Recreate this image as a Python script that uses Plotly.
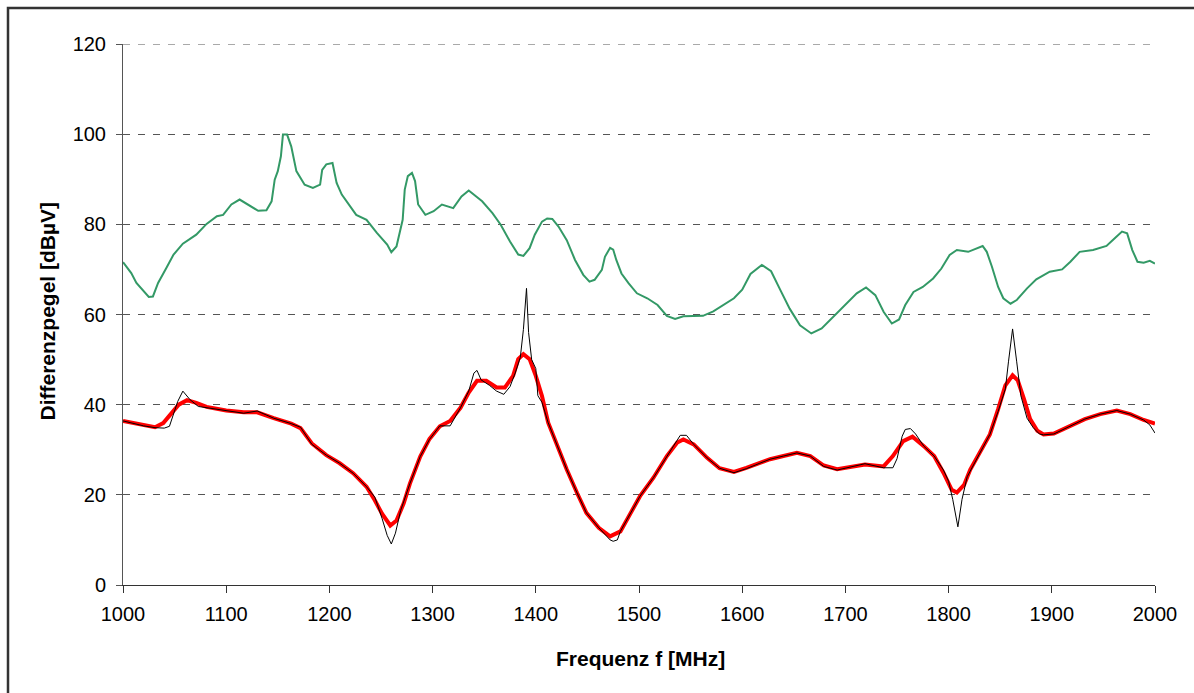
import plotly.graph_objects as go

# ---------------- data ----------------
green_f = [1000, 1008, 1013, 1020, 1025, 1029, 1034, 1042, 1049, 1058, 1071, 1081, 1091, 1097,
           1105, 1113, 1121, 1131, 1139, 1144, 1147, 1150, 1153, 1155, 1159, 1163, 1168, 1176,
           1184, 1191, 1193, 1197, 1203, 1207, 1212, 1218, 1226, 1236, 1246, 1256, 1260, 1265,
           1268, 1271, 1273, 1276, 1280, 1283, 1286, 1293, 1301, 1309, 1320, 1328, 1335, 1340,
           1348, 1358, 1366, 1375, 1383, 1388, 1394, 1399, 1406, 1411, 1416, 1422, 1430, 1438,
           1446, 1452, 1457, 1464, 1467, 1472, 1475, 1478, 1483, 1490, 1498, 1508, 1518, 1527,
           1535, 1543, 1553, 1562, 1572, 1582, 1592, 1600, 1608, 1619, 1628, 1637, 1646, 1656,
           1667, 1677, 1688, 1701, 1711, 1720, 1729, 1737, 1745, 1752, 1758, 1766, 1775, 1785,
           1793, 1801, 1808, 1819, 1828, 1833, 1837, 1842, 1848, 1853, 1860, 1866, 1876, 1885,
           1898, 1910, 1918, 1927, 1940, 1953, 1961, 1968, 1973, 1978, 1983, 1989, 1995, 2000]
green_v = [71.6, 69.2, 67.0, 65.1, 63.9, 64.0, 67.0, 70.3, 73.3, 75.7, 77.7, 80.1, 81.8, 82.1,
           84.4, 85.5, 84.4, 83.0, 83.1, 85.1, 89.9, 91.8, 95.1, 99.9, 99.9, 97.3, 91.8, 88.8,
           88.1, 88.8, 92.1, 93.3, 93.6, 89.2, 86.6, 84.7, 82.1, 81.0, 78.1, 75.5, 73.8, 75.1,
           78.1, 81.0, 87.7, 90.7, 91.4, 89.6, 84.4, 82.1, 82.9, 84.4, 83.6, 86.2, 87.5, 86.6,
           85.1, 82.5, 79.9, 76.2, 73.3, 73.0, 74.7, 77.7, 80.6, 81.3, 81.2, 79.5, 76.5, 72.1,
           68.8, 67.3, 67.7, 69.9, 72.8, 74.8, 74.4, 72.1, 69.1, 66.9, 64.7, 63.6, 62.1, 59.7,
           59.0, 59.6, 59.7, 59.7, 60.7, 62.1, 63.6, 65.5, 69.0, 71.0, 69.6, 65.4, 61.3, 57.6,
           55.8, 56.9, 59.5, 62.4, 64.7, 66.0, 64.3, 60.6, 58.0, 58.9, 62.1, 65.0, 66.1, 68.0,
           70.2, 73.2, 74.3, 73.9, 74.7, 75.2, 73.9, 70.6, 66.1, 63.6, 62.4, 63.2, 65.8, 67.8,
           69.5, 70.0, 71.7, 73.9, 74.3, 75.2, 76.9, 78.4, 78.0, 74.3, 71.7, 71.5, 71.9, 71.3]

red_f = [1000, 1010, 1020, 1031, 1039, 1046, 1054, 1062, 1071, 1081, 1100, 1117, 1130, 1146,
         1163, 1172, 1183, 1197, 1210, 1223, 1236, 1244, 1251, 1259, 1265, 1272, 1278, 1288,
         1297, 1307, 1317, 1327, 1335, 1343, 1352, 1362, 1370, 1378, 1383, 1388, 1394, 1400,
         1406, 1412, 1420, 1430, 1440, 1449, 1461, 1472, 1482, 1491, 1501, 1514, 1527, 1537,
         1543, 1553, 1566, 1578, 1592, 1604, 1617, 1627, 1640, 1653, 1666, 1679, 1692, 1705,
         1719, 1737, 1746, 1756, 1765, 1776, 1786, 1795, 1803, 1808, 1815, 1821, 1830, 1840,
         1848, 1855, 1862, 1867, 1873, 1879, 1886, 1892, 1902, 1915, 1932, 1947, 1963, 1976,
         1989, 2000]
red_v = [36.4, 35.9, 35.4, 35.0, 35.9, 37.8, 40.0, 41.0, 40.4, 39.5, 38.7, 38.3, 38.3, 37.0,
         35.8, 34.8, 31.4, 28.8, 27.0, 24.8, 21.8, 18.8, 15.8, 13.2, 14.3, 18.1, 22.5, 28.5,
         32.4, 35.2, 36.4, 39.3, 42.7, 45.3, 45.3, 43.8, 43.8, 46.4, 50.1, 51.2, 50.1, 46.4,
         41.9, 36.0, 31.2, 25.6, 20.4, 16.0, 12.7, 10.8, 11.9, 15.6, 19.7, 23.8, 28.6, 31.6,
         32.3, 31.2, 28.2, 25.9, 25.1, 26.0, 27.0, 27.9, 28.6, 29.3, 28.6, 26.5, 25.7, 26.2,
         26.7, 26.3, 28.6, 31.9, 32.9, 30.8, 28.6, 24.9, 21.1, 20.5, 22.2, 25.6, 29.3, 33.4,
         39.0, 44.3, 46.5, 45.4, 41.3, 36.8, 34.2, 33.4, 33.6, 34.9, 36.8, 37.9, 38.7, 37.9,
         36.6, 35.8]

black_f = [1000, 1010, 1020, 1031, 1040, 1045, 1053, 1058, 1065, 1073, 1081, 1100, 1117, 1130,
           1146, 1163, 1172, 1183, 1197, 1210, 1223, 1236, 1244, 1251, 1256, 1260, 1264, 1269,
           1278, 1288, 1297, 1307, 1317, 1327, 1335, 1340, 1343, 1347, 1355, 1362, 1369, 1375,
           1380, 1385, 1388, 1391, 1393, 1396, 1400, 1402, 1406, 1412, 1420, 1430, 1440, 1449,
           1461, 1472, 1475, 1479, 1482, 1491, 1501, 1514, 1527, 1537, 1540, 1546, 1553, 1566,
           1578, 1592, 1604, 1617, 1627, 1640, 1653, 1666, 1679, 1692, 1705, 1719, 1737, 1746,
           1750, 1755, 1758, 1763, 1768, 1776, 1786, 1795, 1800, 1804, 1809, 1813, 1818, 1830,
           1840, 1848, 1855, 1858, 1862, 1866, 1870, 1876, 1882, 1888, 1892, 1902, 1915, 1932,
           1947, 1963, 1976, 1989, 1995, 2000]
black_v = [36.4, 35.8, 35.3, 34.9, 34.8, 35.2, 40.7, 43.0, 41.1, 39.6, 39.3, 38.6, 38.1, 38.6,
           37.0, 35.8, 35.0, 31.2, 28.8, 27.0, 24.8, 21.8, 19.5, 14.8, 11.0, 9.1, 11.5, 16.5,
           22.5, 28.5, 32.3, 35.3, 35.3, 39.3, 43.0, 47.0, 47.6, 45.5, 44.3, 43.0, 42.3, 44.0,
           47.0, 50.5, 56.7, 65.8, 56.0, 50.0, 48.0, 42.0, 40.5, 36.0, 31.2, 25.6, 20.4, 16.0,
           12.7, 10.0, 9.7, 10.0, 11.9, 15.6, 19.7, 23.8, 28.6, 32.0, 33.2, 33.2, 31.2, 28.2,
           25.9, 24.9, 25.8, 27.0, 27.9, 28.6, 29.3, 28.6, 26.3, 25.5, 26.2, 26.9, 26.0, 26.0,
           28.0, 33.0, 34.5, 34.7, 33.5, 30.8, 28.6, 25.5, 23.0, 19.0, 12.9, 19.0, 24.0, 29.3,
           33.4, 38.5, 43.5, 49.5, 56.8, 49.5, 42.0, 37.0, 34.9, 33.5, 33.3, 33.5, 34.9, 36.8,
           37.9, 38.7, 37.9, 36.6, 35.5, 33.7]

x_ticks = [1000, 1100, 1200, 1300, 1400, 1500, 1600, 1700, 1800, 1900, 2000]
y_ticks = [0, 20, 40, 60, 80, 100, 120]
x_title = "Frequenz f [MHz]"
y_title = "Differenzpegel [dBµV]"

# ---------------- figure ----------------
W, H = 1194, 693
L, R, T, B = 123, 39, 44, 108
pw, ph = W - L - R, H - T - B

def px_x(p):
    return (p - L) / pw

def px_y(p):
    return (H - B - p) / ph

FONT = "Liberation Sans, Arial, sans-serif"
GRID = "#555"
DASH = "7px,8px"

fig = go.Figure()
fig.add_trace(go.Scatter(x=green_f, y=green_v, mode="lines",
                         line=dict(color="#339966", width=2), showlegend=False))
fig.add_trace(go.Scatter(x=red_f, y=red_v, mode="lines",
                         line=dict(color="#ff0000", width=4), showlegend=False))
fig.add_trace(go.Scatter(x=black_f, y=black_v, mode="lines",
                         line=dict(color="#000000", width=1), showlegend=False))

shapes = [dict(type="rect", xref="paper", yref="paper",
               x0=px_x(8), x1=px_x(1210), y0=px_y(710), y1=px_y(8),
               line=dict(color="#333", width=2.5), fillcolor="rgba(0,0,0,0)")]
# top gridline (at the edge of the range, which plotly does not draw)
shapes.append(dict(type="line", xref="paper", yref="y", x0=0, x1=1,
                   y0=y_ticks[-1], y1=y_ticks[-1], layer="below",
                   line=dict(color=GRID, width=1, dash=DASH)))

fig.update_layout(
    width=W, height=H,
    margin=dict(l=L, r=R, t=T, b=B, pad=0),
    paper_bgcolor="white", plot_bgcolor="white",
    font=dict(family=FONT, size=20, color="black"),
    xaxis=dict(range=[1000, 2000], tickvals=x_ticks, ticktext=[str(v) for v in x_ticks],
               ticks="outside", ticklen=7, tickcolor="#333", tickwidth=1,
               showline=True, linecolor="#333", linewidth=1,
               showgrid=False, zeroline=False, ticklabelstandoff=4,
               tickfont=dict(family=FONT, size=20, color="black")),
    yaxis=dict(range=[0, 120], tickvals=y_ticks, ticktext=[str(v) for v in y_ticks],
               ticks="outside", ticklen=6, tickcolor="#555", tickwidth=1,
               showline=True, linecolor="#555", linewidth=1,
               showgrid=True, gridcolor=GRID, gridwidth=1, griddash=DASH,
               zeroline=False, ticklabelstandoff=6,
               tickfont=dict(family=FONT, size=20, color="black")),
    shapes=shapes,
    annotations=[
        dict(text="<b>" + x_title + "</b>", xref="paper", yref="paper",
             x=px_x(640), y=px_y(658), xanchor="center", yanchor="middle",
             showarrow=False, font=dict(family=FONT, size=21, color="black")),
        dict(text="<b>" + y_title + "</b>", xref="paper", yref="paper",
             x=px_x(47), y=px_y(311.5), xanchor="center", yanchor="middle",
             textangle=-90, showarrow=False,
             font=dict(family=FONT, size=21, color="black")),
    ],
)

fig.write_html("out.html")
